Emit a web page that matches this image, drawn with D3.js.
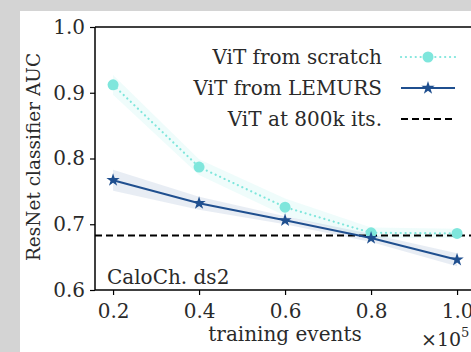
<!DOCTYPE html>
<html><head><meta charset="utf-8">
<script src="https://cdn.jsdelivr.net/npm/d3@7"></script>
<style>html,body{margin:0;padding:0;background:#d4d4d4;}svg{display:block;}
text{font-family:"DejaVu Serif",serif;}</style>
</head><body>
<svg id="c" width="471" height="352"></svg>
<script>
const xValues = [0.2, 0.4, 0.6, 0.8, 1.0];
const scratchAUC = [0.912, 0.787, 0.726, 0.687, 0.686];
const scratchErr = [0.015, 0.012, 0.013, 0.008, 0.007];
const lemursAUC = [0.767, 0.732, 0.706, 0.679, 0.646];
const lemursErr = [0.016, 0.010, 0.006, 0.006, 0.010];
const baseline800k = 0.683;
const xTicks = [0.2, 0.4, 0.6, 0.8, 1.0];
const yTicks = [0.6, 0.7, 0.8, 0.9, 1.0];
const legendLabels = ["ViT from scratch", "ViT from LEMURS", "ViT at 800k its."];

const svg = d3.select("#c");
const font = "DejaVu Serif";
const txt = "#2a2a2a";
svg.append("rect").attr("x",20).attr("y",11).attr("width",451).attr("height",341).attr("fill","#fff");

const L=95, T=27, B=290;
const x = d3.scaleLinear().domain([0.158, 1.04]).range([L, L + (1.04-0.158)*430]);
const y = d3.scaleLinear().domain([0.6, 1.0]).range([B, T]);

const cScr = "#7fe6dc", cLem = "#1f4f8f";
const g = svg.append("g");
const idx = d3.range(xValues.length);

const area = (v, e) => d3.area().x(i=>x(xValues[i])).y0(i=>y(v[i]-e[i])).y1(i=>y(v[i]+e[i]));
g.append("path").datum(idx).attr("d", area(scratchAUC, scratchErr)).attr("fill", cScr).attr("opacity", 0.12);
g.append("path").datum(idx).attr("d", area(lemursAUC, lemursErr)).attr("fill", cLem).attr("opacity", 0.1);

const line = v => d3.line().x(i=>x(xValues[i])).y(i=>y(v[i]));
g.append("line").attr("x1",L).attr("x2",471).attr("y1",y(baseline800k)).attr("y2",y(baseline800k))
  .attr("stroke","#000").attr("stroke-width",2).attr("stroke-dasharray","7,4");
g.append("path").datum(idx).attr("d", line(scratchAUC)).attr("fill","none").attr("stroke",cScr)
  .attr("stroke-width",2.2).attr("stroke-dasharray","0.1,4.8").attr("stroke-linecap","round");
g.append("path").datum(idx).attr("d", line(lemursAUC)).attr("fill","none").attr("stroke",cLem).attr("stroke-width",2);

g.selectAll(".dot").data(idx).join("circle").attr("cx",i=>x(xValues[i])).attr("cy",i=>y(scratchAUC[i])).attr("r",5.5).attr("fill",cScr);
const star = d3.symbol().type(d3.symbolStar).size(55);
g.selectAll(".star").data(idx).join("path").attr("d",star).attr("transform",i=>`translate(${x(xValues[i])},${y(lemursAUC[i])})`).attr("fill",cLem);

// axes
const xa = svg.append("g").attr("transform",`translate(0,${B})`).call(d3.axisBottom(x).tickValues(xTicks).tickFormat(d3.format(".1f")).tickSize(5).tickPadding(9));
const ya = svg.append("g").attr("transform",`translate(${L},0)`).call(d3.axisLeft(y).tickValues(yTicks).tickFormat(d3.format(".1f")).tickSize(5).tickPadding(5));
[xa,ya].forEach(a=>{a.attr("font-family",null); a.select(".domain").remove(); a.selectAll("line").attr("stroke","#000").attr("stroke-width",1.2);
  a.selectAll("text").style("font-family",font).attr("font-size",20).attr("fill",txt);});
svg.append("line").attr("x1",L).attr("x2",471).attr("y1",B).attr("y2",B).attr("stroke","#000").attr("stroke-width",1.5);
svg.append("line").attr("x1",L).attr("x2",471).attr("y1",T).attr("y2",T).attr("stroke","#000").attr("stroke-width",1.5);
svg.append("line").attr("x1",L).attr("x2",L).attr("y1",T).attr("y2",B).attr("stroke","#000").attr("stroke-width",1.5);

// labels
svg.append("text").attr("x",285).attr("y",341).attr("text-anchor","middle").attr("font-size",20).attr("fill",txt).text("training events");
svg.append("text").attr("transform","translate(40,157) rotate(-90)").attr("text-anchor","middle").attr("font-size",18.5).attr("fill",txt).text("ResNet classifier AUC");
const ex = svg.append("text").attr("x",421).attr("y",346).attr("font-size",19).attr("fill",txt);
ex.append("tspan").text("×10");
ex.append("tspan").attr("font-size",13).attr("dy",-9).text("5");
svg.append("text").attr("x",107).attr("y",284).attr("font-size",20).attr("fill",txt).text("CaloCh. ds2");

// legend
const ly = [57, 88, 119];
legendLabels.forEach((t,i)=>{
  svg.append("text").attr("x",382).attr("y",ly[i]+7).attr("text-anchor","end").attr("font-size",20).attr("fill",txt).text(t);
});
svg.append("line").attr("x1",401).attr("x2",455).attr("y1",ly[0]).attr("y2",ly[0]).attr("stroke",cScr).attr("stroke-width",2.2).attr("stroke-dasharray","0.1,4.8").attr("stroke-linecap","round");
svg.append("circle").attr("cx",428).attr("cy",ly[0]).attr("r",5.5).attr("fill",cScr);
svg.append("line").attr("x1",401).attr("x2",455).attr("y1",ly[1]).attr("y2",ly[1]).attr("stroke",cLem).attr("stroke-width",2);
svg.append("path").attr("d",star).attr("transform",`translate(428,${ly[1]})`).attr("fill",cLem);
svg.append("line").attr("x1",401).attr("x2",455).attr("y1",ly[2]).attr("y2",ly[2]).attr("stroke","#000").attr("stroke-width",2).attr("stroke-dasharray","7,4");
</script>
</body></html>
